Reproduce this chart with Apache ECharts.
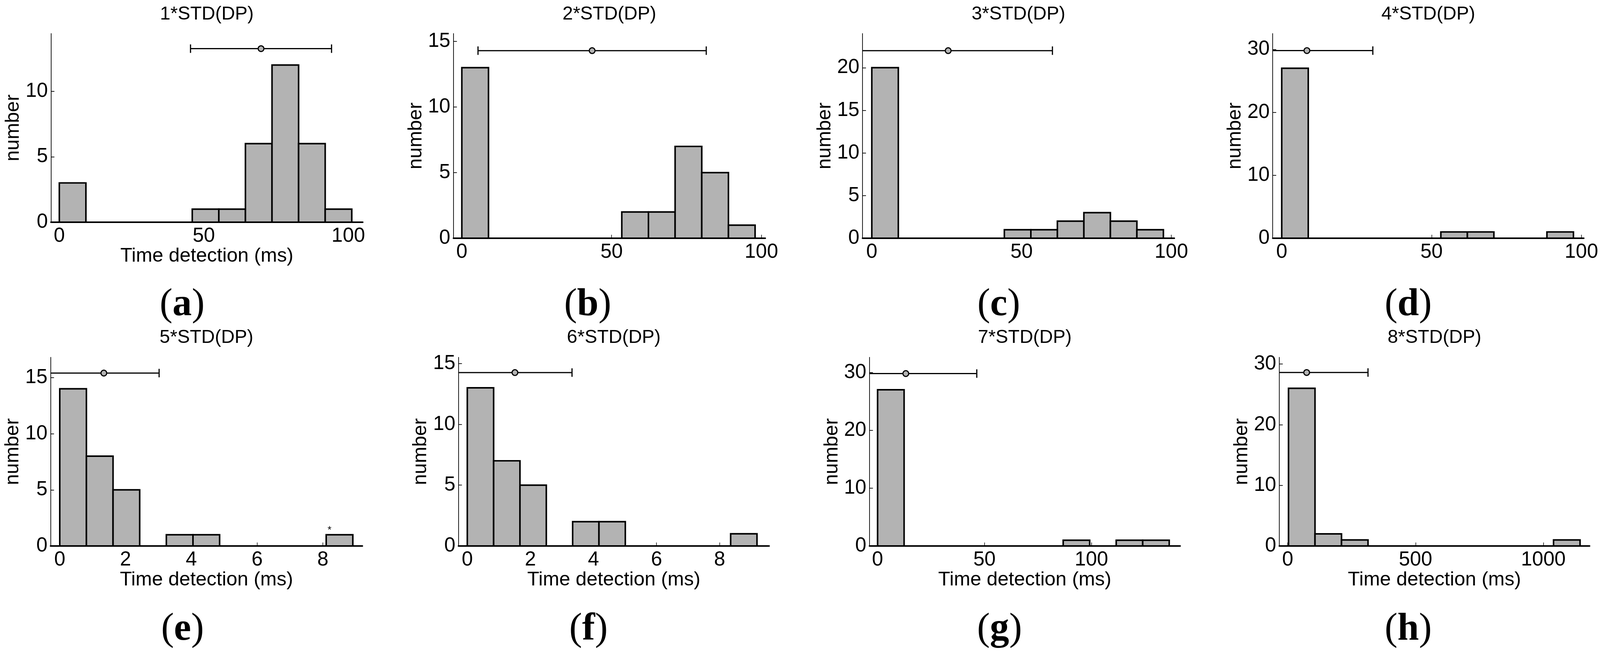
<!DOCTYPE html>
<html><head><meta charset="utf-8">
<script src="https://cdn.jsdelivr.net/npm/echarts@6/dist/echarts.min.js"></script>
<style>html,body{margin:0;padding:0;background:#fff;overflow:hidden;width:100%;height:100%}#c{width:100vw;height:100vh}</style>
</head><body><div id="c"></div>
<script>
// ---------------- data ----------------
const panelTitles = ['1*STD(DP)','2*STD(DP)','3*STD(DP)','4*STD(DP)','5*STD(DP)','6*STD(DP)','7*STD(DP)','8*STD(DP)'];
const panelLetters = ['a','b','c','d','e','f','g','h'];
const xAxisNames = ['Time detection (ms)','','','','Time detection (ms)','Time detection (ms)','Time detection (ms)','Time detection (ms)'];
const yAxisName = 'number';

const edgesA = [0, 9.2, 18.4, 27.6, 36.8, 46.0, 55.2, 64.4, 73.6, 82.8, 92.0, 101.2];
const countsA = [3, 0, 0, 0, 0, 1, 1, 6, 12, 6, 1];
const edgesB = [0, 8.9, 17.8, 26.7, 35.6, 44.5, 53.4, 62.3, 71.2, 80.1, 89.0, 97.9];
const countsB = [13, 0, 0, 0, 0, 0, 2, 2, 7, 5, 1];
const edgesC = [0, 8.85, 17.7, 26.55, 35.4, 44.25, 53.1, 61.95, 70.8, 79.65, 88.5, 97.35];
const countsC = [20, 0, 0, 0, 0, 1, 1, 2, 3, 2, 1];
const edgesD = [0, 8.85, 17.7, 26.55, 35.4, 44.25, 53.1, 61.95, 70.8, 79.65, 88.5, 97.35];
const countsD = [27, 0, 0, 0, 0, 0, 1, 1, 0, 0, 1];
const edgesE = [0, 0.81, 1.62, 2.43, 3.24, 4.05, 4.86, 5.67, 6.48, 7.29, 8.1, 8.91];
const countsE = [14, 8, 5, 0, 1, 1, 0, 0, 0, 0, 1];
const edgesF = [0, 0.835, 1.67, 2.505, 3.34, 4.175, 5.01, 5.845, 6.68, 7.515, 8.35, 9.185];
const countsF = [13, 7, 5, 0, 2, 2, 0, 0, 0, 0, 1];
const edgesG = [0, 12.4, 24.8, 37.2, 49.6, 62.0, 74.4, 86.8, 99.2, 111.6, 124.0, 136.4];
const countsG = [27, 0, 0, 0, 0, 0, 0, 1, 0, 1, 1];
const edgesH = [3, 106.7, 210.4, 314.1, 417.8, 521.5, 625.2, 728.9, 832.6, 936.3, 1040.0, 1143.7];
const countsH = [26, 2, 1, 0, 0, 0, 0, 0, 0, 0, 1];

const xMin = [-2.9, -2.8, -3.1, -3.0, -0.28, -0.28, -3.8, -33];
const xMax = [105, 101.3, 101, 100.8, 9.2, 9.57, 141.5, 1181];
const yMax = [14.4, 15.6, 24.0, 32.5, 16.8, 15.5, 32.6, 31.1];

const xTicksA = [0, 50, 100], xTicksB = [0, 50, 100], xTicksC = [0, 50, 100], xTicksD = [0, 50, 100];
const xTicksE = [0, 2, 4, 6, 8], xTicksF = [0, 2, 4, 6, 8], xTicksG = [0, 50, 100], xTicksH = [0, 500, 1000];
const yTicksA = [0, 5, 10], yTicksB = [0, 5, 10, 15], yTicksC = [0, 5, 10, 15, 20], yTicksD = [0, 10, 20, 30];
const yTicksE = [0, 5, 10, 15], yTicksF = [0, 5, 10, 15], yTicksG = [0, 10, 20, 30], yTicksH = [0, 10, 20, 30];

// mean +/- one spread (error bar above each histogram)
const errMean = [69.8, 43.5, 25.5, 8.4, 1.34, 1.51, 13.2, 74];
const errHalf = [24.4, 38.1, 34.8, 22.0, 1.68, 1.81, 33.2, 240];
const errY = [13.25, 14.3, 22.0, 29.8, 15.4, 14.25, 29.8, 28.6];

// small stray asterisk in panel (e)
const starPanel = 4, starX = [8.2], starY = [1.41];

// ---------------- layout (pixels, for a 4146 x 1672 page) ----------------
const gridLeft  = [132, 1175, 2235, 3298, 131, 1188, 2253, 3315];
const gridRight = [940, 1983, 3043, 4104, 939, 1993, 3058, 4119];
const gridTop   = [86, 86, 86, 86, 915, 915, 915, 915];
const gridBase  = [569, 610, 610, 610, 1398, 1398, 1398, 1398];
const titleY    = [37, 37, 37, 37, 865, 865, 865, 865];
const letterX   = [472, 1523, 2588, 3649, 473, 1525, 2590, 3649];
const letterY   = [781, 781, 781, 781, 1612, 1612, 1612, 1612];

const allEdges = [edgesA, edgesB, edgesC, edgesD, edgesE, edgesF, edgesG, edgesH];
const allCounts = [countsA, countsB, countsC, countsD, countsE, countsF, countsG, countsH];
const allXTicks = [xTicksA, xTicksB, xTicksC, xTicksD, xTicksE, xTicksF, xTicksG, xTicksH];
const allYTicks = [yTicksA, yTicksB, yTicksC, yTicksD, yTicksE, yTicksF, yTicksG, yTicksH];

const el = document.getElementById('c');
const W = el.clientWidth || 4146, H = el.clientHeight || 1672;
const sx = W / 4146, sy = H / 1672, s = Math.min(sx, sy);
const X = v => v * sx, Y = v => v * sy, S = v => v * s;

const SANS = 'Liberation Sans, Arial, sans-serif';
const SERIF = 'Liberation Serif, Times New Roman, serif';
const BAR_FILL = '#b3b3b3';

function renderBar(params, api) {
  const lo = api.value(0), hi = api.value(1), c = api.value(2);
  const p0 = api.coord([lo, c]);
  const p1 = api.coord([hi, 0]);
  return {
    type: 'rect',
    shape: { x: p0[0], y: p0[1], width: p1[0] - p0[0], height: p1[1] - p0[1] },
    style: { fill: BAR_FILL, stroke: '#000', lineWidth: S(4) }
  };
}

function renderErr(params, api) {
  const m = api.value(0), h = api.value(1), y = api.value(2);
  const cs = params.coordSys;
  const pm = api.coord([m, y]);
  const pl = api.coord([m - h, y]);
  const pr = api.coord([m + h, y]);
  let lx = pl[0], rx = pr[0];
  const lClip = lx < cs.x, rClip = rx > cs.x + cs.width;
  if (lClip) lx = cs.x;
  if (rClip) rx = cs.x + cs.width;
  const capH = S(11);
  const ln = { stroke: '#000', lineWidth: S(3) };
  const children = [
    { type: 'line', shape: { x1: lx, y1: pm[1], x2: rx, y2: pm[1] }, style: ln }
  ];
  if (!lClip) children.push({ type: 'line', shape: { x1: lx, y1: pm[1] - capH, x2: lx, y2: pm[1] + capH }, style: ln });
  if (!rClip) children.push({ type: 'line', shape: { x1: rx, y1: pm[1] - capH, x2: rx, y2: pm[1] + capH }, style: ln });
  children.push({ type: 'circle', shape: { cx: pm[0], cy: pm[1], r: S(7.5) }, style: { fill: BAR_FILL, stroke: '#000', lineWidth: S(3) } });
  return { type: 'group', children: children };
}

function renderStar(params, api) {
  const p = api.coord([api.value(0), api.value(1)]);
  return { type: 'text', x: p[0], y: p[1], style: { text: '*', font: Math.round(S(26)) + 'px ' + SANS, fill: '#000', align: 'center', verticalAlign: 'middle' } };
}

const plainNum = v => String(v);

const grids = [], xAxes = [], yAxes = [], series = [], graphics = [];
for (let i = 0; i < 8; i++) {
  grids.push({ left: X(gridLeft[i]), top: Y(gridTop[i]), width: X(gridRight[i] - gridLeft[i]), height: Y(gridBase[i] - gridTop[i]), containLabel: false });
  xAxes.push({
    type: 'value', gridIndex: i, min: xMin[i], max: xMax[i],
    axisLine: { show: true, onZero: false, lineStyle: { color: '#000', width: S(4) } },
    axisTick: { show: true, inside: true, length: S(9), customValues: allXTicks[i], lineStyle: { color: '#000', width: S(1.5) } },
    axisLabel: { show: true, customValues: allXTicks[i], formatter: plainNum, color: '#000', fontSize: S(52), fontFamily: SANS, margin: S(10) },
    splitLine: { show: false },
    name: xAxisNames[i], nameLocation: 'middle', nameGap: S(58),
    nameTextStyle: { color: '#000', fontSize: S(51), fontFamily: SANS }
  });
  yAxes.push({
    type: 'value', gridIndex: i, min: 0, max: yMax[i],
    axisLine: { show: true, onZero: false, lineStyle: { color: '#000', width: S(1.8) } },
    axisTick: { show: true, inside: true, length: S(9), customValues: allYTicks[i], lineStyle: { color: '#000', width: S(1.8) } },
    axisLabel: { show: true, customValues: allYTicks[i], formatter: plainNum, color: '#000', fontSize: S(52), fontFamily: SANS, margin: S(8) },
    splitLine: { show: false },
    name: yAxisName, nameLocation: 'middle', nameGap: S(72), nameRotate: 90,
    nameTextStyle: { color: '#000', fontSize: S(51), fontFamily: SANS }
  });
  const e = allEdges[i], c = allCounts[i];
  const binData = c.map((v, k) => [e[k], e[k + 1], v]);
  series.push({
    type: 'custom', xAxisIndex: i, yAxisIndex: i, renderItem: renderBar,
    encode: { x: [0, 1], y: 2 }, data: binData, silent: true, z: 2
  });
  series.push({
    type: 'custom', xAxisIndex: i, yAxisIndex: i, renderItem: renderErr,
    encode: { x: 0, y: 2 }, data: [[errMean[i], errHalf[i], errY[i]]], silent: true, z: 3
  });
  graphics.push({
    type: 'text', x: X((gridLeft[i] + gridRight[i]) / 2), y: Y(titleY[i]),
    style: { text: panelTitles[i], font: Math.round(S(49)) + 'px ' + SANS, fill: '#000', align: 'center', verticalAlign: 'middle' }
  });
  graphics.push({
    type: 'text', x: X(letterX[i]), y: Y(letterY[i]),
    style: {
      text: '{p|(}{l|' + panelLetters[i] + '}{p|)}',
      align: 'center', verticalAlign: 'middle',
      rich: {
        p: { fontFamily: SERIF, fontSize: S(100), fontWeight: 'normal', fill: '#000', color: '#000' },
        l: { fontFamily: SERIF, fontSize: S(100), fontWeight: 'bold', fill: '#000', color: '#000' }
      }
    }
  });
}
series.push({
  type: 'custom', xAxisIndex: starPanel, yAxisIndex: starPanel, renderItem: renderStar,
  encode: { x: 0, y: 1 }, data: starX.map((x, k) => [x, starY[k]]), silent: true, z: 4
});

const chart = echarts.init(el, null, { renderer: 'canvas' });
chart.setOption({
  animation: false,
  backgroundColor: '#fff',
  grid: grids, xAxis: xAxes, yAxis: yAxes, series: series,
  graphic: graphics
});
</script></body></html>
